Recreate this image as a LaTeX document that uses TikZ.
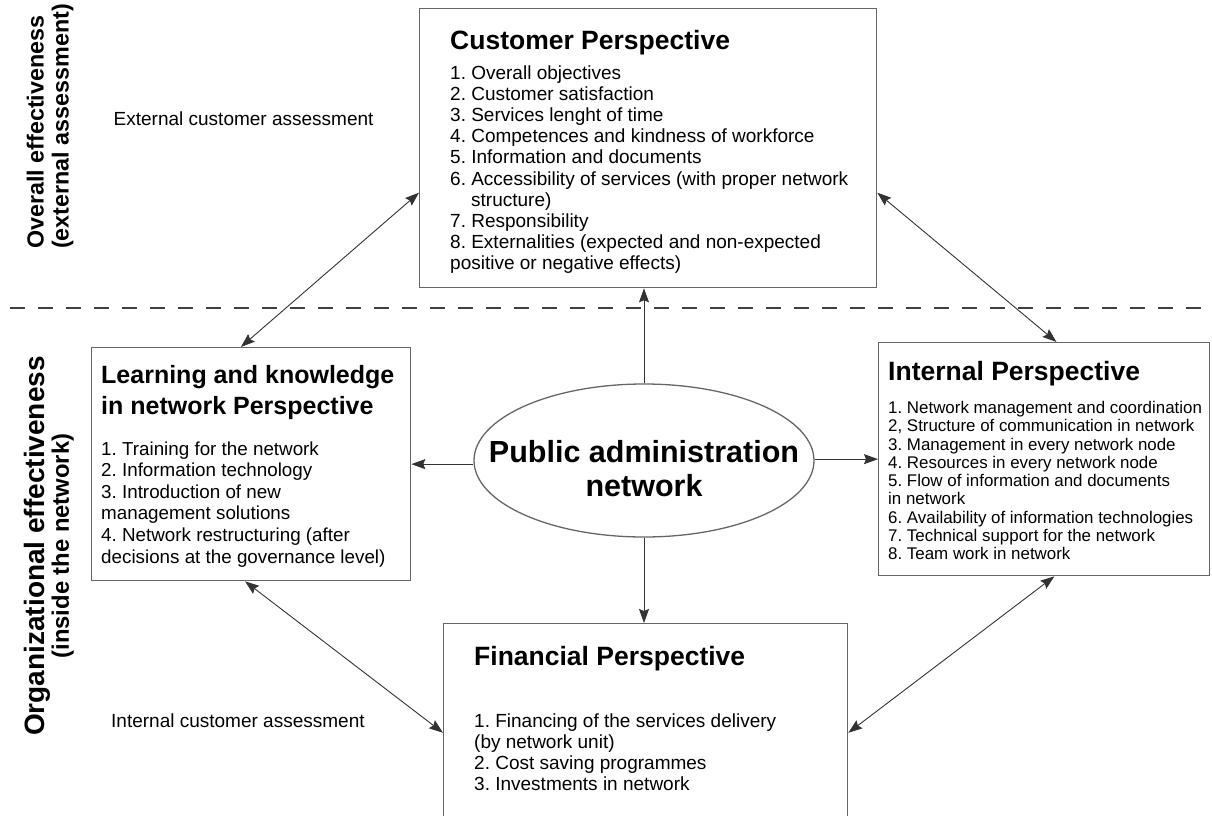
\documentclass[tikz,border=0pt]{standalone}
\usepackage{fontspec}
\setmainfont{Liberation Sans}
\usetikzlibrary{arrows.meta,shapes.geometric,positioning}
\frenchspacing

\begin{document}
\begin{tikzpicture}[x=1pt,y=-1pt,
  persp/.style={draw=black!60,line width=1.3pt,inner sep=0pt},
  persptext/.style={anchor=north west,align=left,inner sep=0pt},
  twoway/.style={{Stealth[length=14pt,width=10pt,inset=2pt]}-{Stealth[length=14pt,width=10pt,inset=2pt]},line width=0.9pt,black!80},
  oneway/.style={-{Stealth[length=14pt,width=10pt,inset=2pt]},line width=0.9pt,black!80}]
\useasboundingbox (0,0) rectangle (1212,816);
\clip (0,0) rectangle (1212,816);

\draw[line width=2pt,black!75,dash pattern=on 15pt off 13pt] (10,308) -- (1212,308);

\node[persp,minimum width=457,minimum height=279,anchor=north west] (cust) at (419,8) {};
\node[persp,minimum width=319,minimum height=233,anchor=north west] (learn) at (91,347) {};
\node[persp,minimum width=331,minimum height=233,anchor=north west] (intern) at (878,342) {};
\node[persp,minimum width=404,minimum height=197,anchor=north west] (fin) at (443,623) {};
\node[persp,ellipse,minimum width=340,minimum height=153] (pan) at (644,460.5) {};

\node[persptext,font=\fontsize{19}{21.2}\selectfont] (cust-txt) at ([xshift=31,yshift=-21.7]cust.north west) {%
  {\fontsize{26.5}{26.5}\selectfont\bfseries Customer Perspective}\\[8.8pt]
  1. Overall objectives\\
  2. Customer satisfaction\\
  3. Services lenght of time\\
  4. Competences and kindness of workforce\\
  5. Information and documents\\
  6. Accessibility of services (with proper network\\
  \hspace*{21pt}structure)\\
  7. Responsibility\\
  8. Externalities (expected and non-expected\\
  positive or negative effects)};
\node[persptext,font=\fontsize{18.8}{21.6}\selectfont] (learn-txt) at ([xshift=10,yshift=-18]learn.north west) {%
  {\fontsize{25}{25}\selectfont\bfseries Learning and knowledge}\\[6.4pt]
  {\fontsize{25}{25}\selectfont\bfseries in network Perspective}\\[19.4pt]
  1. Training for the network\\
  2. Information technology\\
  3. Introduction of new\\
  management solutions\\
  4. Network restructuring (after\\
  decisions at the governance level)};
\node[persptext,font=\fontsize{16.9}{18.3}\selectfont] (intern-txt) at ([xshift=10,yshift=-19]intern.north west) {%
  {\fontsize{26.5}{26.5}\selectfont\bfseries Internal Perspective}\\[14.7pt]
  1. Network management and coordination\\
  2, Structure of communication in network\\
  3. Management in every network node\\
  4. Resources in every network node\\
  5. Flow of information and documents\\
  in network\\
  6. Availability of information technologies\\
  7. Technical support for the network\\
  8. Team work in network};
\node[persptext,font=\fontsize{19}{21}\selectfont] (fin-txt) at ([xshift=31,yshift=-23]fin.north west) {%
  {\fontsize{26.5}{26.5}\selectfont\bfseries Financial Perspective}\\[41pt]
  1. Financing of the services delivery\\
  (by network unit)\\
  2. Cost saving programmes\\
  3. Investments in network};
\node[align=center,inner sep=0pt,font=\fontsize{30.5}{34}\selectfont\bfseries] (pan-txt) at ([yshift=-8]pan.center) {Public administration\\network};

\node[rotate=90,anchor=north west,align=left,inner sep=0pt,font=\fontsize{23.3}{25}\selectfont\bfseries] (overall) at (26.5,249) {Overall effectiveness\\(external assessment)};
\node[rotate=90,anchor=north,align=center,inner sep=0pt,font=\fontsize{23.8}{22}\selectfont\bfseries] (orgeff) at (24.3,546) {{\fontsize{28}{22}\selectfont Organizational effectiveness}\\(inside the network)};
\node[anchor=base west,inner sep=0pt,font=\fontsize{19}{21}\selectfont] (ext) at (113.5,125) {External customer assessment};
\node[anchor=base west,inner sep=0pt,font=\fontsize{19}{21}\selectfont] (int) at (111,727) {Internal customer assessment};

\draw[twoway] (cust.191) -- (learn.95);
\draw[twoway] (cust.349) -- (intern.84);
\draw[twoway] (learn.267) -- (fin.183);
\draw[twoway] (intern.275) -- (fin.357);
\draw[oneway] (pan.north) -- (pan.north |- cust.south);
\draw[oneway] (pan.south) -- (pan.south |- fin.north);
\draw[oneway] (pan.west |- learn.east) -- (learn.east);
\draw[oneway] (pan.east |- intern.west) -- (intern.west);
\end{tikzpicture}
\end{document}
